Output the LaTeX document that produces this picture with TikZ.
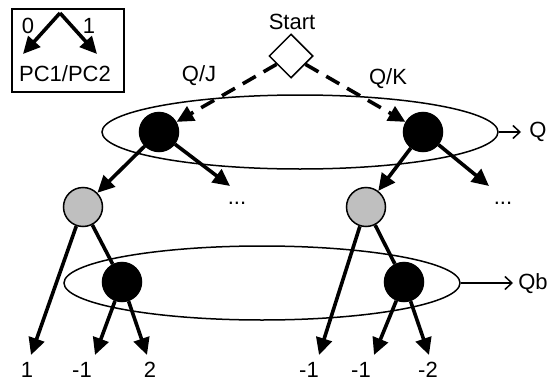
\documentclass[tikz,border=0pt]{standalone}
\usepackage{fontspec}
\setmainfont{Liberation Sans}
\usetikzlibrary{shapes.geometric,arrows.meta}

\begin{document}
\begin{tikzpicture}[x=1pt, y=-1pt, node distance=75pt, inner sep=1pt,
    font=\fontsize{22}{26}\selectfont,
    dec/.style={circle, draw, line width=1.5pt, minimum size=39pt, inner sep=0pt},
    grp/.style={ellipse, draw, line width=1.5pt, minimum width=396pt, minimum height=74pt},
    move/.style={line width=3.6pt, -{Triangle[length=17pt,width=16pt]}},
    setarrow/.style={line width=1.5pt, -{Straight Barb[length=7pt,width=13pt]}}]
    \useasboundingbox (0,0) rectangle (552,383);

    \node[grp] (qset) at (300,132) {};
    \node[grp] (qbset) at (262,283) {};

    \node[rectangle, draw, line width=1.5pt, minimum width=112pt, minimum height=83pt] (legend) at (68,50.5) {};
    \coordinate (lgtop) at (60,13);
    \coordinate (lg0) at (23,54);
    \coordinate (lg1) at (97,54);
    \draw[move] (lgtop) -- (lg0);
    \draw[move] (lgtop) -- (lg1);
    \node (lg0lbl) at (28,26) {0};
    \node (lg1lbl) at (89,26) {1};
    \node (lgtext) at (65,74) {PC1/PC2};

    \node[diamond, draw, fill=white, line width=1.5pt, minimum size=44pt, inner sep=0pt] (start) at (291,56) {};
    \node (startlbl) at (292,22) {Start};

    \node[dec, fill=black] (qj) at (159,132) {};
    \node[dec, fill=black] (qk) at (423,132) {};
    \node[dec, fill=black!25, below of=qj, xshift=-76pt] (pl) {};
    \node[dec, fill=black!25, below of=qk, xshift=-57pt] (pr) {};
    \node[dec, fill=black, below of=pl, xshift=39pt] (bl) {};
    \node[dec, fill=black, below of=pr, xshift=38pt] (br) {};

    \draw[move, dash pattern=on 15pt off 9pt] (start) -- (qj);
    \draw[move, dash pattern=on 15pt off 9pt] (start) -- (qk);
    \node (qjlbl) at (199,76) {Q/J};
    \node (qklbl) at (388,79) {Q/K};

    \coordinate (qjmore) at (230,186);
    \coordinate (qkmore) at (489,186);
    \draw[move] (qj) -- (pl);
    \draw[move] (qj) -- (qjmore);
    \draw[move] (qk) -- (pr);
    \draw[move] (qk) -- (qkmore);
    \node (qjdots) at (237,203) {...};
    \node (qkdots) at (503,203) {...};

    \coordinate (l1) at (31,355);
    \coordinate (l2) at (95,355);
    \coordinate (l3) at (147,355);
    \coordinate (r1) at (319,355);
    \coordinate (r2) at (374,355);
    \coordinate (r3) at (429,355);
    \draw[move] (pl) -- (l1);
    \draw[line width=3.6pt] (pl) -- (bl);
    \draw[move] (bl) -- (l2);
    \draw[move] (bl) -- (l3);
    \draw[move] (pr) -- (r1);
    \draw[line width=3.6pt] (pr) -- (br);
    \draw[move] (br) -- (r2);
    \draw[move] (br) -- (r3);

    \node (l1lbl) at (27,370) {1};
    \node (l2lbl) at (82,370) {-1};
    \node (l3lbl) at (150,370) {2};
    \node (r1lbl) at (309,370) {-1};
    \node (r2lbl) at (361,370) {-1};
    \node (r3lbl) at (428,370) {-2};

    \coordinate (qtip) at (521,132);
    \coordinate (qbtip) at (513,283);
    \draw[setarrow] (qset.east) -- (qtip);
    \draw[setarrow] (qbset.east) -- (qbtip);
    \node (qlbl) at (538,132) {Q};
    \node (qblbl) at (533,284) {Qb};
\end{tikzpicture}
\end{document}
